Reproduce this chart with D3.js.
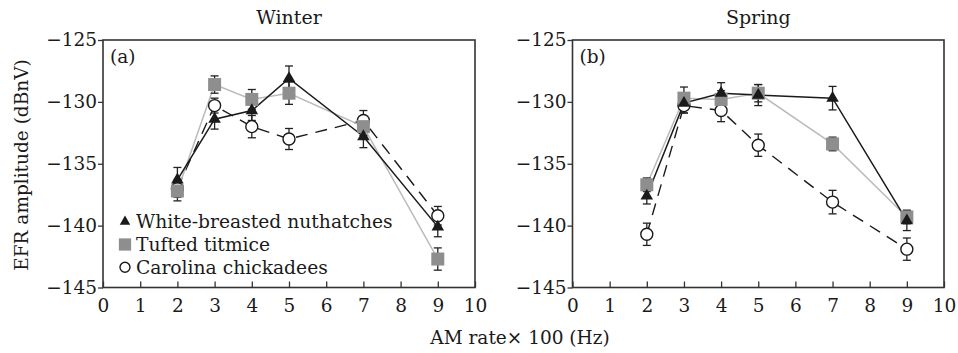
<!DOCTYPE html>
<html>
<head>
<meta charset="utf-8">
<script src="https://cdn.jsdelivr.net/npm/d3@7"></script>
<style>
  body { margin: 0; background: #fff; }
  svg text { font-family: "DejaVu Serif", "Liberation Serif", serif; fill: #1a1a1a; }
</style>
</head>
<body>
<div id="chart"></div>
<script>
// AM rates (x 100 Hz)
const amRates = [2, 3, 4, 5, 7, 9];
const xTicks = [0, 1, 2, 3, 4, 5, 6, 7, 8, 9, 10];
const yTicks = [-125, -130, -135, -140, -145];

// Winter (a)
const winterNuthatch = [-136.3, -131.4, -130.7, -128.1, -132.8, -140.1];
const winterNuthatchErr = [1.0, 0.8, 0.8, 1.0, 0.9, 0.8];
const winterTitmice = [-137.2, -128.6, -129.8, -129.3, -132.0, -142.7];
const winterTitmiceErr = [0.8, 0.7, 0.8, 0.9, 0.7, 0.9];
const winterChickadee = [-137.0, -130.3, -132.0, -133.0, -131.5, -139.2];
const winterChickadeeErr = [0.7, 0.6, 0.9, 0.85, 0.8, 0.75];

// Spring (b)
const springNuthatch = [-137.6, -130.1, -129.3, -129.45, -129.7, -139.6];
const springNuthatchErr = [0.65, 0.8, 0.85, 0.85, 0.95, 0.8];
const springTitmice = [-136.7, -129.7, -129.8, -129.3, -133.4, -139.3];
const springTitmiceErr = [0.55, 0.9, 0.7, 0.7, 0.55, 0.55];
const springChickadee = [-140.7, -130.3, -130.7, -133.5, -138.1, -141.9];
const springChickadeeErr = [0.9, 0.6, 0.9, 0.9, 0.95, 0.9];

const speciesNames = ['White-breasted nuthatches', 'Tufted titmice', 'Carolina chickadees'];

const width = 958;
const height = 353;
const plotTop = 40, plotBottom = 287.5;

const panels = [
  {title: 'Winter', tag: '(a)', left: 103, right: 475,
   series: [
     {kind: 'chick', values: winterChickadee, err: winterChickadeeErr},
     {kind: 'tit', values: winterTitmice, err: winterTitmiceErr},
     {kind: 'nut', values: winterNuthatch, err: winterNuthatchErr}
   ], legend: true},
  {title: 'Spring', tag: '(b)', left: 572.5, right: 944,
   series: [
     {kind: 'chick', values: springChickadee, err: springChickadeeErr},
     {kind: 'tit', values: springTitmice, err: springTitmiceErr},
     {kind: 'nut', values: springNuthatch, err: springNuthatchErr}
   ], legend: false}
];

const styles = {
  nut: {line: '#1a1a1a', width: 1.5, dash: null},
  tit: {line: '#bbbbbb', width: 1.5, dash: null},
  chick: {line: '#1a1a1a', width: 1.4, dash: '12,8'}
};

const svg = d3.select('#chart').append('svg')
  .attr('width', width)
  .attr('height', height);

function drawMarker(g, kind, x, y, small) {
  if (kind === 'nut') {
    g.append('path')
      .attr('d', d3.symbol().type(d3.symbolTriangle).size(small ? 48 : 68)())
      .attr('transform', `translate(${x},${y})`)
      .attr('fill', '#1a1a1a');
  } else if (kind === 'tit') {
    g.append('path')
      .attr('d', d3.symbol().type(d3.symbolSquare).size(small ? 150 : 169)())
      .attr('transform', `translate(${x},${y})`)
      .attr('fill', '#8e8e8e');
  } else {
    g.append('circle')
      .attr('cx', x).attr('cy', y)
      .attr('r', small ? 5 : 6)
      .attr('fill', '#fff')
      .attr('stroke', '#1a1a1a')
      .attr('stroke-width', 1.4);
  }
}

panels.forEach(p => {
  const xScale = d3.scaleLinear().domain([0, 10]).range([p.left, p.right]);
  const yScale = d3.scaleLinear().domain([-145, -125]).range([plotBottom, plotTop]);
  const g = svg.append('g');

  // title
  g.append('text')
    .attr('x', (p.left + p.right) / 2)
    .attr('y', 24)
    .attr('text-anchor', 'middle')
    .style('font-size', '19px')
    .text(p.title);

  // lines
  const line = d3.line().x((d, i) => xScale(amRates[i])).y(d => yScale(d));
  p.series.forEach(s => {
    const st = styles[s.kind];
    g.append('path')
      .attr('d', line(s.values))
      .attr('fill', 'none')
      .attr('stroke', st.line)
      .attr('stroke-width', st.width)
      .attr('stroke-dasharray', st.dash);
  });

  // error bars
  p.series.forEach(s => {
    s.values.forEach((v, i) => {
      const x = xScale(amRates[i]);
      const y0 = yScale(v - s.err[i]);
      const y1 = yScale(v + s.err[i]);
      g.append('line').attr('x1', x).attr('x2', x).attr('y1', y0).attr('y2', y1)
        .attr('stroke', '#222').attr('stroke-width', 1.3);
      [y0, y1].forEach(yy => {
        g.append('line').attr('x1', x - 4).attr('x2', x + 4).attr('y1', yy).attr('y2', yy)
          .attr('stroke', '#222').attr('stroke-width', 1.3);
      });
    });
  });

  // markers
  p.series.forEach(s => {
    s.values.forEach((v, i) => drawMarker(g, s.kind, xScale(amRates[i]), yScale(v), false));
  });

  // axes
  const xAxis = d3.axisBottom(xScale).tickValues(xTicks).tickSizeInner(-6).tickSizeOuter(0).tickPadding(11);
  const xAxisG = g.append('g')
    .attr('transform', `translate(0,${plotBottom})`)
    .call(xAxis);
  const yAxis = d3.axisLeft(yScale).tickValues(yTicks).tickSizeInner(5).tickSizeOuter(0).tickPadding(1)
    .tickFormat(d => '\u2212' + Math.abs(d));
  const yAxisG = g.append('g')
    .attr('transform', `translate(${p.left},0)`)
    .call(yAxis);

  [xAxisG, yAxisG].forEach(a => {
    a.select('.domain').remove();
    a.selectAll('line').attr('stroke', '#333').attr('stroke-width', 1.3);
    a.selectAll('text').style('font-size', '18.5px').attr('fill', '#1a1a1a')
      .style('font-family', '"DejaVu Serif", serif');
  });

  // frame
  g.append('rect')
    .attr('x', p.left).attr('y', plotTop)
    .attr('width', p.right - p.left).attr('height', plotBottom - plotTop)
    .attr('fill', 'none').attr('stroke', '#333').attr('stroke-width', 1.6);

  // panel tag
  g.append('text')
    .attr('x', p.left + 7)
    .attr('y', 63)
    .style('font-size', '18.5px')
    .text(p.tag);

  // legend
  if (p.legend) {
    const kinds = ['nut', 'tit', 'chick'];
    kinds.forEach((k, i) => {
      const ly = 221.7 + i * 22.8;
      drawMarker(g, k, 125, ly, true);
      g.append('text')
        .attr('x', 136)
        .attr('y', ly + 6.5)
        .style('font-size', '18.7px')
        .text(speciesNames[i]);
    });
  }
});

// axis titles
svg.append('text')
  .attr('transform', 'translate(28,165) rotate(-90)')
  .attr('text-anchor', 'middle')
  .style('font-size', '18.5px')
  .text('EFR amplitude (dBnV)');

svg.append('text')
  .attr('x', 520)
  .attr('y', 344)
  .attr('text-anchor', 'middle')
  .style('font-size', '18.5px')
  .text('AM rate\u00d7 100 (Hz)');
</script>
</body>
</html>
